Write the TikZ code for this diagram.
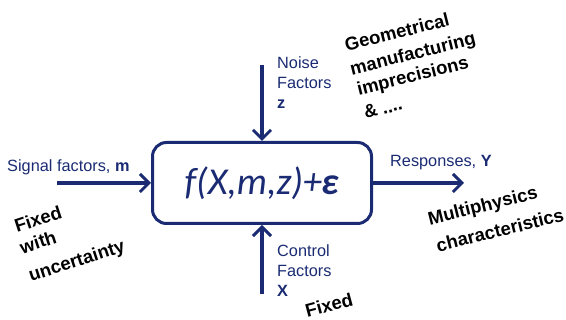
\documentclass[tikz,border=0pt]{standalone}
\usepackage{fontspec}
\setmainfont{Liberation Sans}
\newfontfamily\calib{Carlito}
\usetikzlibrary{arrows.meta}
\definecolor{navy}{RGB}{26,43,115}
\begin{document}
\begin{tikzpicture}[x=1pt,y=1pt,
  conn/.style={navy, line width=4pt, -{Straight Barb[length=9pt,width=18pt,line width=3pt]}},
  lbl/.style={navy, font=\fontsize{16.3}{20}\selectfont, inner sep=0pt, align=left},
  note/.style={font=\bfseries\fontsize{18.5}{22}\selectfont, inner sep=0pt}]
\useasboundingbox (0,0) rectangle (566,-320);
\node[draw=navy, line width=3pt, rounded corners=14pt, minimum width=219pt, minimum height=81pt, text=navy,
  font=\calib\itshape\fontsize{38}{40}\selectfont] (box) at (262,-183) {f(X,m,z)+\textbf{ε}};
\coordinate (ntop) at (262,-65);
\coordinate (cbot) at (262,-294);
\coordinate (sl) at (57,-183);
\coordinate (re) at (464,-183);
\draw[conn] (ntop) -- (box.north);
\draw[conn] (cbot) -- (box.south);
\draw[conn] (sl) -- (box.west);
\draw[conn] (box.east) -- (re);
\node[lbl, anchor=north west] (noise) at (277,-56) {Noise\\Factors\\\textbf{z}};
\node[lbl, anchor=north west] (control) at (277,-244) {Control\\Factors\\\textbf{X}};
\node[lbl, anchor=base west] (signal) at (7,-172) {Signal factors, \textbf{m}};
\node[lbl, anchor=base west] (resp) at (390,-167) {Responses, \textbf{Y}};
\node[note, rotate=14] (g1) at (397,-32) {Geometrical};
\node[note, rotate=14] (g2) at (413,-55) {manufacturing};
\node[note, rotate=14] (g3) at (413,-77) {imprecisions};
\node[note, rotate=14] (g4) at (383,-108) {\& ....};
\node[note, rotate=14] (m1) at (483,-207) {Multiphysics};
\node[note, rotate=14] (m2) at (500,-230) {characteristics};
\node[note, rotate=18] (f1) at (38,-219) {Fixed};
\node[note, rotate=18] (f2) at (38,-242) {with};
\node[note, rotate=18] (f3) at (77,-262) {uncertainty};
\node[note, rotate=15] (f4) at (329,-305) {Fixed};
\end{tikzpicture}
\end{document}
